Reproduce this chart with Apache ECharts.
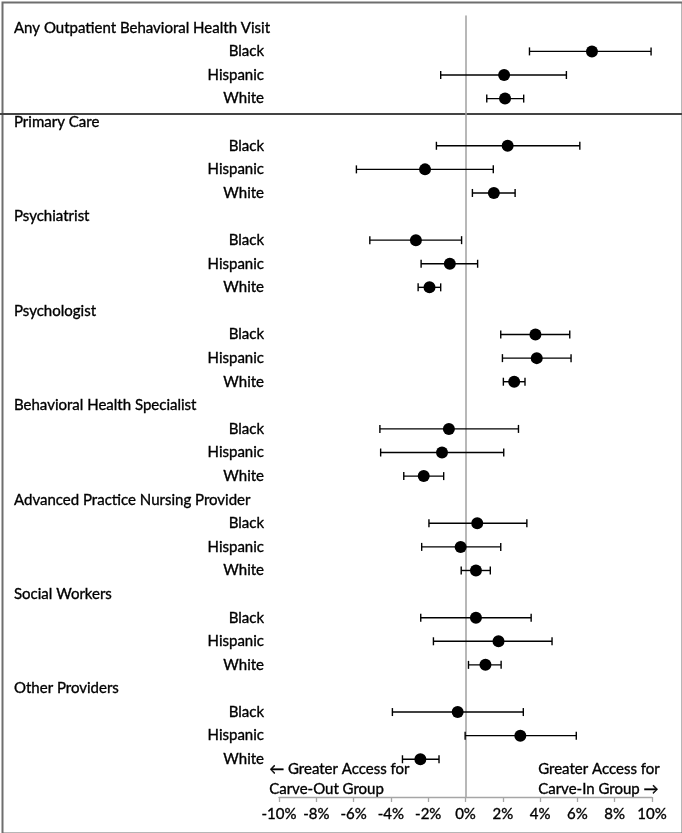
<!DOCTYPE html>
<html>
<head>
<meta charset="utf-8">
<script src="https://cdn.jsdelivr.net/npm/echarts@6/dist/echarts.min.js"></script>
<style>
html,body{margin:0;padding:0;background:#fff;}
#chart{width:682px;height:833px;}
</style>
</head>
<body>
<div id="chart"></div>
<script>
// ---- data ----
var groups = ['Any Outpatient Behavioral Health Visit','Primary Care','Psychiatrist','Psychologist',
  'Behavioral Health Specialist','Advanced Practice Nursing Provider','Social Workers','Other Providers'];
var races = ['Black','Hispanic','White'];
// estimates (%), order: group by group, Black/Hispanic/White
var estimates = [6.78,2.07,2.12, 2.26,-2.17,1.52, -2.66,-0.84,-1.93, 3.75,3.82,2.61,
  -0.89,-1.26,-2.24, 0.63,-0.26,0.56, 0.56,1.77,1.07, -0.42,2.94,-2.42];
var lower = [3.43,-1.33,1.14, -1.56,-5.85,0.37, -5.13,-2.38,-2.54, 1.89,1.98,2.03,
  -4.59,-4.55,-3.31, -1.96,-2.35,-0.23, -2.40,-1.72,0.16, -3.92,-0.02,-3.38];
var upper = [9.95,5.41,3.12, 6.13,1.49,2.66, -0.21,0.65,-1.33, 5.59,5.66,3.19,
  2.84,2.05,-1.17, 3.29,1.89,1.33, 3.52,4.64,1.91, 3.10,5.94,-1.42];
var xTicks = [-10,-8,-6,-4,-2,0,2,4,6,8,10];
var noteLeft = '\u2190 Greater Access for\nCarve-Out Group';
var noteRight = 'Greater Access for\nCarve-In Group \u2192';

// ---- build rows ----
var labelData = [], barData = [], pointData = [];
groups.forEach(function(g, gi){
  var hr = gi*4;
  labelData.push([0, hr, g, 1]);
  races.forEach(function(r, ri){
    var row = hr + 1 + ri, k = gi*3 + ri;
    labelData.push([0, row, r, 0]);
    barData.push([lower[k], upper[k], row]);
    pointData.push([estimates[k], row]);
  });
});

var FONT = 'Lato';
var TB = {textBorderColor: '#000', textBorderWidth: 0.35};
var chart = echarts.init(document.getElementById('chart'));
chart.setOption({
  animation: false,
  backgroundColor: '#fff',
  grid: {left: 279, right: 30, top: 16, bottom: 36},
  xAxis: {
    type: 'value', min: -10, max: 10, interval: 2,
    axisLine: {show: true, onZero: false, lineStyle: {color: '#a6a6a6', width: 1.3}},
    axisTick: {show: true, length: 5, lineStyle: {color: '#a6a6a6', width: 1.3}},
    splitLine: {show: false},
    axisLabel: {formatter: function(v){ return v + '%'; }, color: '#000', fontSize: 15,
      fontFamily: FONT, margin: 10, textBorderColor: '#000', textBorderWidth: 0.35}
  },
  yAxis: {
    type: 'value', inverse: true, min: -0.5, max: 32.6,
    axisLine: {show: true, onZero: true, lineStyle: {color: '#a0a0a0', width: 1.5}},
    axisTick: {show: false}, axisLabel: {show: false}, splitLine: {show: false}
  },
  series: [
    {
      type: 'custom', silent: true, z: 3,
      data: barData,
      encode: {x: [0, 1], y: 2},
      renderItem: function(params, api){
        var y = api.value(2);
        var p1 = api.coord([api.value(0), y]);
        var p2 = api.coord([api.value(1), y]);
        var h = 4;
        var st = {stroke: '#000', lineWidth: 1.4};
        return {type: 'group', children: [
          {type: 'line', shape: {x1: p1[0], y1: p1[1], x2: p2[0], y2: p2[1]}, style: st},
          {type: 'line', shape: {x1: p1[0], y1: p1[1]-h, x2: p1[0], y2: p1[1]+h}, style: st},
          {type: 'line', shape: {x1: p2[0], y1: p2[1]-h, x2: p2[0], y2: p2[1]+h}, style: st}
        ]};
      }
    },
    {
      type: 'scatter', z: 4, silent: true,
      data: pointData, symbol: 'circle', symbolSize: 12,
      itemStyle: {color: '#000', opacity: 1}
    },
    {
      type: 'custom', silent: true, z: 5,
      data: labelData,
      encode: {x: 0, y: 1},
      clip: false,
      renderItem: function(params, api){
        var p = api.coord([0, api.value(1)]);
        var isHeader = api.value(3) === 1;
        return {
          type: 'text',
          style: {
            x: isHeader ? 14 : 264, y: p[1],
            text: labelData[params.dataIndex][2],
            align: isHeader ? 'left' : 'right',
            verticalAlign: 'middle',
            fill: '#000', fontSize: 15, fontFamily: FONT,
            stroke: '#000', lineWidth: 0.35
          }
        };
      }
    }
  ],
  graphic: [
    {type: 'rect', left: 0, top: 0, silent: true,
      shape: {x: 1, y: 1, width: 680, height: 831},
      style: {fill: 'none', stroke: '#6e6e6e', lineWidth: 2}},
    {type: 'line', silent: true, shape: {x1: 0, y1: 114, x2: 682, y2: 114},
      style: {stroke: '#444', lineWidth: 2}},
    {type: 'text', left: 269, top: 759, silent: true,
      style: {text: noteLeft, fontSize: 15, lineHeight: 20, fontFamily: FONT, fill: '#000',
        stroke: '#000', lineWidth: 0.35}},
    {type: 'text', left: 538, top: 759, silent: true,
      style: {text: noteRight, fontSize: 15, lineHeight: 20, fontFamily: FONT, fill: '#000',
        stroke: '#000', lineWidth: 0.35}}
  ]
});
</script>
</body>
</html>
